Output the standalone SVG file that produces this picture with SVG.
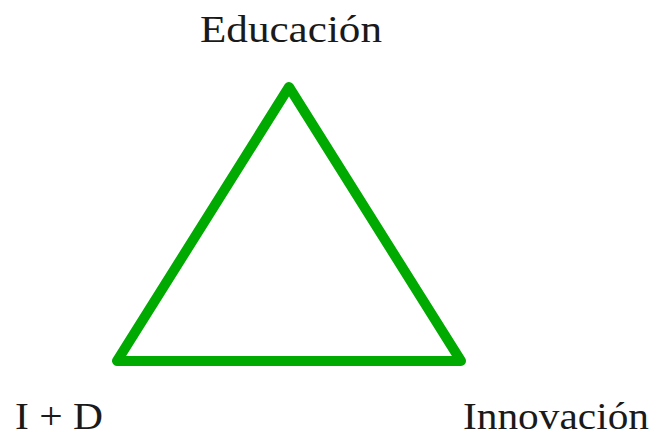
<svg xmlns="http://www.w3.org/2000/svg" width="658" height="432" viewBox="0 0 658 432">
<style>
.lbl{font-family:"Liberation Serif","Times New Roman",serif;font-size:38px;fill:#1a1a1a}
.tri{fill:none;stroke:#00aa00;stroke-width:10;stroke-linejoin:round;stroke-linecap:round}
</style>
<rect width="658" height="432" fill="#ffffff"/>
<g id="connectors">
<polygon class="tri" points="289,87 117,361 461,361"/>
</g>
<g id="educacion"><text class="lbl" x="200" y="42" textLength="182" lengthAdjust="spacingAndGlyphs">Educación</text></g>
<g id="id"><text class="lbl" x="15" y="429" textLength="88" lengthAdjust="spacingAndGlyphs">I + D</text></g>
<g id="innovacion"><text class="lbl" x="463" y="429" textLength="186" lengthAdjust="spacingAndGlyphs">Innovación</text></g>
</svg>
